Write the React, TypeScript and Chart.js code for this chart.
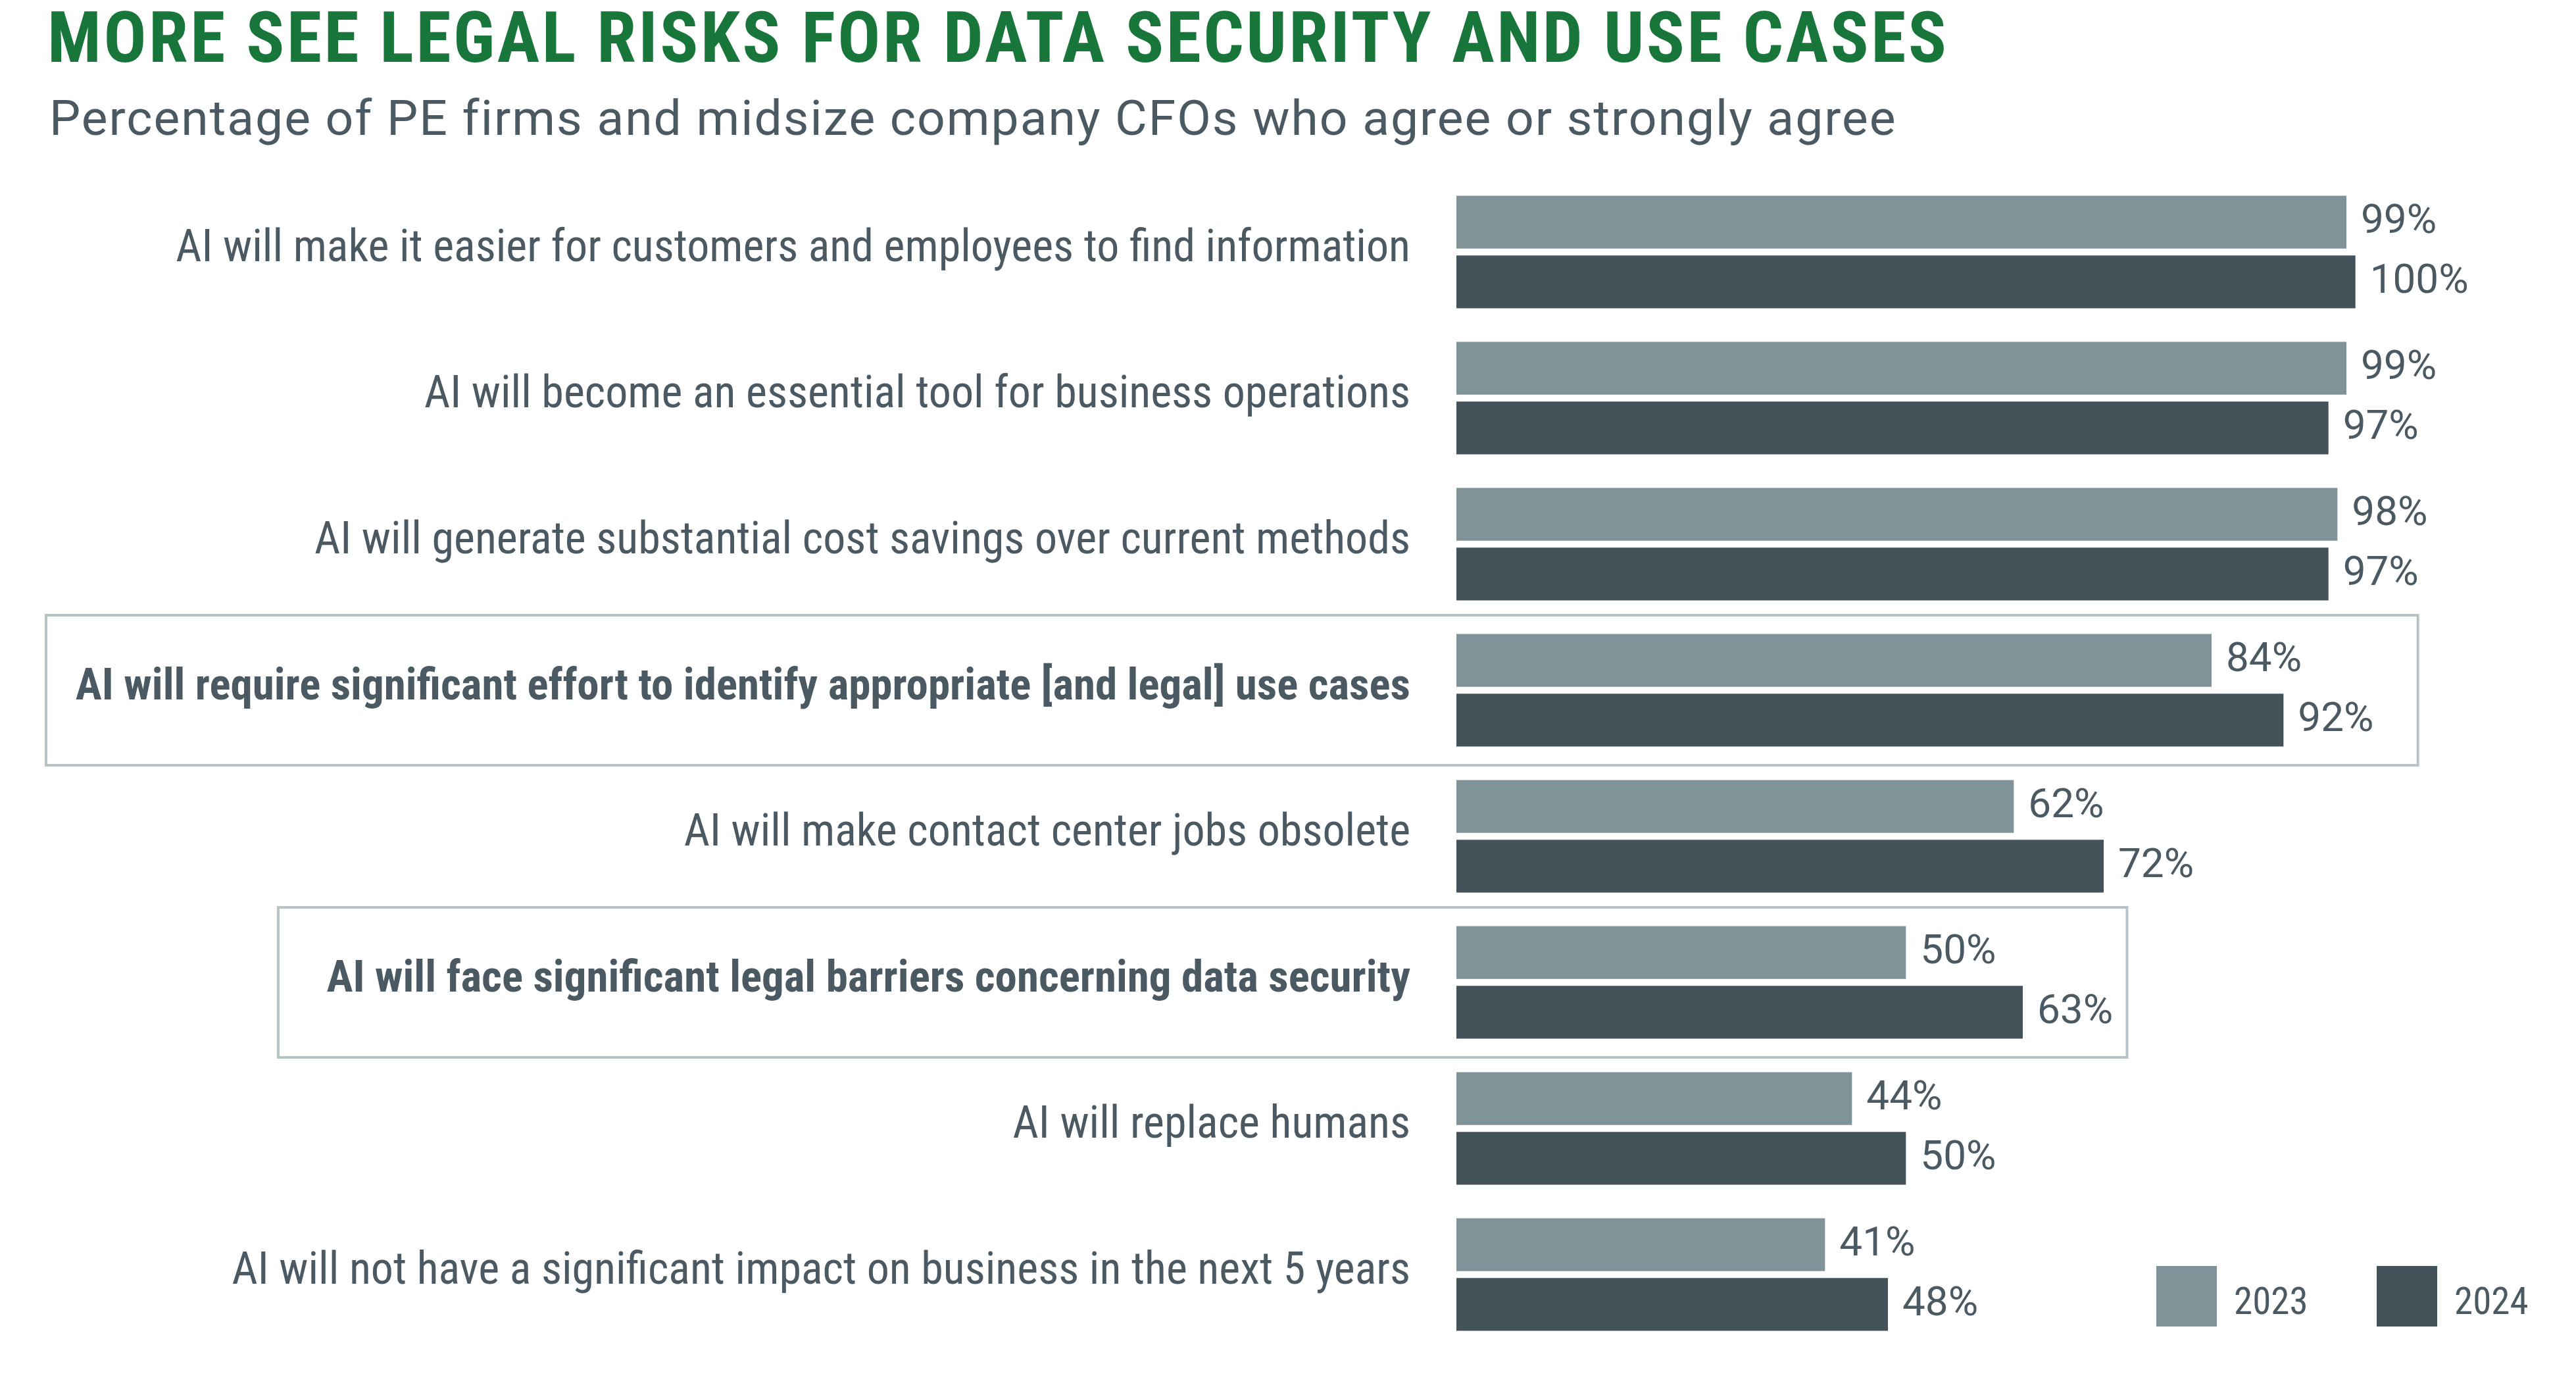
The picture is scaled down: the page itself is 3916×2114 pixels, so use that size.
import { useEffect, useRef } from "react";
import Chart from "chart.js/auto";

const categories = [
  "AI will make it easier for customers and employees to find information",
  "AI will become an essential tool for business operations",
  "AI will generate substantial cost savings over current methods",
  "AI will require significant effort to identify appropriate [and legal] use cases",
  "AI will make contact center jobs obsolete",
  "AI will face significant legal barriers concerning data security",
  "AI will replace humans",
  "AI will not have a significant impact on business in the next 5 years",
];
const seriesLabels = ["2023", "2024"];
const values2023 = [99, 99, 98, 84, 62, 50, 44, 41];
const values2024 = [100, 97, 97, 92, 72, 63, 50, 48];
const highlighted = [3, 5];

const FONT = "Roboto, 'Noto Sans', sans-serif";
const TEXT = "#4a5962";
const GREEN = "#18763a";
const colors = ["#7f9399", "#44525a"];

// boxes round the bold rows (left in px, right in axis units)
const boxes = [
  { index: 3, left: 70, right: 106.95 },
  { index: 5, left: 423, right: 74.6 },
];

const valueLabels = {
  id: "valueLabels",
  afterDatasetsDraw(chart) {
    const ctx = chart.ctx;
    ctx.save();
    ctx.font = `normal 400 62px ${FONT}`;
    ctx.fillStyle = TEXT;
    ctx.textAlign = "left";
    ctx.textBaseline = "middle";
    chart.data.datasets.forEach((ds, i) => {
      const meta = chart.getDatasetMeta(i);
      meta.data.forEach((bar, j) => {
        ctx.fillText(`${ds.data[j]}%`, bar.x + 22, bar.y + 1);
      });
    });
    ctx.restore();
  },
};

const highlightBoxes = {
  id: "highlightBoxes",
  afterDraw(chart) {
    const ctx = chart.ctx;
    const y = chart.scales.y;
    const x = chart.scales.x;
    ctx.save();
    ctx.strokeStyle = "#b8c3c7";
    ctx.lineWidth = 4;
    boxes.forEach((b) => {
      const cy = y.getPixelForValue(b.index);
      const right = x.getPixelForValue(b.right);
      ctx.strokeRect(b.left, cy - 114, right - b.left, 228);
    });
    ctx.restore();
  },
};

const sideLegend = {
  id: "sideLegend",
  afterDraw(chart) {
    const ctx = chart.ctx;
    ctx.save();
    ctx.font = `semi-condensed 400 57px ${FONT}`;
    ctx.textBaseline = "alphabetic";
    chart.data.datasets.forEach((ds, i) => {
      const x0 = 3278 + i * 335;
      ctx.fillStyle = ds.backgroundColor;
      ctx.fillRect(x0, 1924, 92, 92);
      ctx.fillStyle = TEXT;
      ctx.fillText(ds.label, x0 + 118, 1997);
    });
    ctx.restore();
  },
};

export default function App() {
  const ref = useRef(null);

  useEffect(() => {
    const chart = new Chart(ref.current, {
      type: "bar",
      data: {
        labels: categories,
        datasets: [
          {
            label: seriesLabels[0],
            data: values2023,
            backgroundColor: colors[0],
            barPercentage: 0.886,
            categoryPercentage: 0.816,
          },
          {
            label: seriesLabels[1],
            data: values2024,
            backgroundColor: colors[1],
            barPercentage: 0.886,
            categoryPercentage: 0.816,
          },
        ],
      },
      options: {
        indexAxis: "y",
        responsive: false,
        maintainAspectRatio: false,
        animation: false,
        layout: { padding: { left: 0, right: 62, top: 272, bottom: 66 } },
        scales: {
          x: { min: 0, max: 120, display: false },
          y: {
            grid: { display: false },
            border: { display: false },
            afterFit: (scale) => {
              scale.width = 2214;
              // keep the label padding from shrinking the plot area
              scale.paddingTop = 0;
              scale.paddingBottom = 0;
            },
            ticks: {
              color: TEXT,
              padding: 62,
              labelOffset: -3,
              font: (c) =>
                highlighted.includes(c.index)
                  ? { family: FONT, size: 67, weight: "condensed bold" }
                  : { family: FONT, size: 68, weight: "condensed 400" },
            },
          },
        },
        plugins: {
          legend: { display: false },
          tooltip: { enabled: false },
        },
      },
      plugins: [valueLabels, highlightBoxes, sideLegend],
    });
    return () => {
      chart.destroy();
    };
  }, []);

  return (
    <div
      style={{
        position: "absolute",
        left: 0,
        top: 0,
        width: 3916,
        height: 2114,
        background: "#fff",
        overflow: "hidden",
      }}
    >
      <div
        style={{
          position: "absolute",
          left: 72,
          top: 3,
          fontFamily: FONT,
          fontWeight: 700,
          fontStretch: "semi-condensed",
          fontSize: 108,
          letterSpacing: 3.5,
          lineHeight: 1,
          color: GREEN,
          whiteSpace: "nowrap",
        }}
      >
        MORE SEE LEGAL RISKS FOR DATA SECURITY AND USE CASES
      </div>
      <div
        style={{
          position: "absolute",
          left: 75,
          top: 142,
          fontFamily: FONT,
          fontWeight: 400,
          fontSize: 75,
          letterSpacing: 2,
          lineHeight: 1,
          color: TEXT,
          whiteSpace: "nowrap",
        }}
      >
        Percentage of PE firms and midsize company CFOs who agree or strongly agree
      </div>
      <canvas
        ref={ref}
        width={3916}
        height={2114}
        style={{ position: "absolute", left: 0, top: 0, width: 3916, height: 2114 }}
      ></canvas>
    </div>
  );
}
